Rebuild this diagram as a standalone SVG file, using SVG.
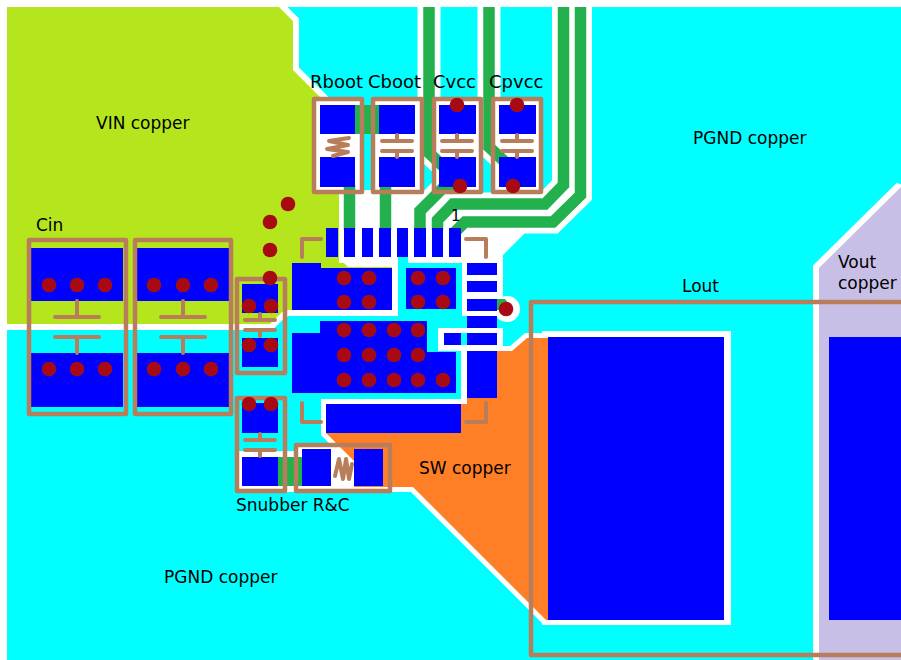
<svg xmlns="http://www.w3.org/2000/svg" width="901" height="660" viewBox="0 0 901 660">
<style>
.t{font-family:"DejaVu Sans",sans-serif;font-size:17px;fill:#000}
.h{font-size:18px}
.pad{fill:#0000ff}
.via{fill:#a80a14}
.box{fill:none;stroke:#b87e5c;stroke-width:4.5;stroke-linejoin:round}
.sym{fill:none;stroke:#b87e5c;stroke-width:4;stroke-linecap:round;stroke-linejoin:round}
.cu{paint-order:stroke;stroke:#fff;stroke-width:12;stroke-linejoin:miter;stroke-miterlimit:2}
.tr{fill:none;stroke:#22b14c;stroke-width:11.500;stroke-linejoin:miter}
.cl{fill:none;stroke:#fff;stroke-width:23}
</style>
<defs>
<g id="capv"><path class="sym" d="M0-11V-5M-15-5H15M-15 5H15M0 5V11"/></g>
<g id="capbig"><path class="sym" d="M0-26V-10M-22-10H22M-22 10H22M0 10V26"/></g>
<circle id="v" class="via" r="7.3"/>
</defs>
<rect width="901" height="660" fill="#fff"/>
<rect x="7" y="7" width="894" height="653" fill="#00ffff"/>
<g id="copper">
<polygon id="vout-copper" class="cu" fill="#c8bfe7" points="819,268 901,187 901,670 819,670"/>
<polygon id="vin-copper" class="cu" fill="#b5e61d" points="7,7 279,7 293,21 293,70 322,99 322,194 339,194 339,258 348,267 392,267 392,310 288,310 282,312 270,324 7,324"/>
<polygon fill="#fff" points="339,190 470,190 470,233 525,233 503,255 503,295 500,316 462,316 462,263 408,263 408,257 398,257 398,263 339,263"/>
<rect x="316" y="99" width="48" height="93" fill="#fff"/>
<rect x="373" y="99" width="49" height="93" fill="#fff"/>
<rect x="434" y="99" width="47" height="93" fill="#fff"/>
<rect x="493" y="99" width="48" height="93" fill="#fff"/>
<rect x="542" y="331" width="189" height="294" fill="#fff"/>
<rect x="239" y="451" width="60" height="41" fill="#fff"/>
<rect x="296" y="443" width="60" height="49" fill="#fff"/>
<circle cx="507" cy="309" r="13" fill="#fff"/>
<polygon id="sw-copper" class="cu" style="stroke-width:10" fill="#ff7f27" points="326,404 467,404 467,398 497,398 497,351 512,351 527,338 548,338 548,620 546,620 413,487 354,487 354,461 326,433"/>
<rect x="438" y="328" width="65" height="23" fill="#fff"/>
<rect x="461" y="333" width="6" height="12" fill="#00ffff"/>
<rect x="461" y="351" width="6" height="53" fill="#fff"/>
</g>
<g id="connectors">
<path class="cl" d="M429 7V153L442 165M489 7V147L505 162M563.500 7V185L545 204H453L437 220V228M580.500 7V195L553 222H465L455 232M420 228V211L445 186"/>
<path class="tr" d="M429 7V153L445 168"/>
<path class="tr" d="M489 7V147L505 162"/>
<path class="tr" d="M563.500 7V185L545 204H453L437.500 220V230"/>
<path class="tr" d="M580.500 7V195L553 222H465L455 232"/>
<path class="tr" d="M420 230V211L445 186H458"/>
<path class="tr" d="M349.500 185V230"/>
<path class="tr" d="M385.500 185V230"/>
<rect x="355" y="105" width="25" height="29" fill="#22b14c"/>
<rect x="278" y="457" width="24" height="29" fill="#22b14c"/>
<polygon points="497,299 505,299 508,303 508,310 497,310" fill="#22b14c"/>
</g>
<g id="ic">
<rect class="pad" x="326" y="228" width="12" height="29"/>
<rect class="pad" x="344" y="228" width="11" height="29"/>
<rect class="pad" x="362" y="228" width="11" height="29"/>
<rect class="pad" x="379" y="228" width="12" height="29"/>
<rect class="pad" x="397" y="228" width="11" height="29"/>
<rect class="pad" x="414" y="228" width="12" height="29"/>
<rect class="pad" x="432" y="228" width="11" height="29"/>
<rect class="pad" x="449" y="228" width="12" height="29"/>
<rect class="pad" x="467" y="263" width="30" height="12"/>
<rect class="pad" x="467" y="281" width="30" height="11"/>
<rect class="pad" x="467" y="299" width="30" height="12"/>
<rect class="pad" x="467" y="316" width="30" height="12"/>
<rect class="pad" x="467" y="333" width="30" height="12"/>
<rect class="pad" x="444" y="333" width="17" height="12"/>
<rect class="pad" x="467" y="351" width="30" height="47"/>
<polygon class="pad" points="292,263 321,263 321,268 392,268 392,310 292,310"/>
<rect class="pad" x="406" y="268" width="50" height="41"/>
<polygon class="pad" points="320,321 427,321 427,352 456,352 456,393 292,393 292,333 320,333"/>
<rect class="pad" x="326" y="404" width="135" height="29"/>
<path class="sym" d="M321 239H302V257M466 239H486V257M302 403V422H321M486 403V422H466"/>
<text class="t" x="451" y="221" style="font-size:15px">1</text>
</g>
<g id="c-rboot">
<rect class="pad" x="320" y="105" width="35" height="29"/><rect class="pad" x="320" y="157" width="35" height="30"/>
<path class="sym" stroke-width="3" d="M349 138L329 141L348 145L327 149L348 152L333 156"/>
<rect class="box" x="314" y="99" width="48" height="93"/>
</g>
<g id="c-cboot">
<rect class="pad" x="379" y="105" width="36" height="29"/><rect class="pad" x="379" y="157" width="36" height="30"/>
<use href="#capv" x="397" y="146"/>
<rect class="box" x="373" y="99" width="49" height="93"/>
</g>
<g id="c-cvcc">
<rect class="pad" x="439" y="105" width="37" height="29"/><rect class="pad" x="439" y="157" width="37" height="30"/>
<use href="#capv" x="457" y="146"/>
<rect class="box" x="434" y="99" width="47" height="93"/>
</g>
<g id="c-cpvcc">
<rect class="pad" x="499" y="105" width="37" height="29"/><rect class="pad" x="499" y="157" width="37" height="30"/>
<use href="#capv" x="517" y="146"/>
<rect class="box" x="493" y="99" width="48" height="93"/>
</g>
<g id="c-cin1">
<rect class="pad" x="31" y="248" width="92" height="53"/><rect class="pad" x="31" y="353" width="92" height="54"/>
<use href="#capbig" x="77" y="327"/>
<rect class="box" x="29" y="240" width="97" height="174"/>
</g>
<g id="c-cin2">
<rect class="pad" x="137" y="248" width="92" height="53"/><rect class="pad" x="137" y="353" width="92" height="54"/>
<use href="#capbig" x="183" y="327"/>
<rect class="box" x="135" y="240" width="96" height="174"/>
</g>
<g id="c-small">
<rect class="pad" x="242" y="284" width="36" height="29"/><rect class="pad" x="242" y="338" width="36" height="29"/>
<use href="#capv" x="260" y="325"/>
<rect class="box" x="237" y="279" width="48" height="94"/>
</g>
<g id="c-snubber">
<rect class="pad" x="242" y="403" width="36" height="30"/><rect class="pad" x="242" y="457" width="36" height="29"/>
<use href="#capv" x="260" y="445"/>
<rect class="box" x="237" y="398" width="48" height="93"/>
</g>
<g id="r-snubber">
<rect class="pad" x="302" y="449" width="29" height="37"/><rect class="pad" x="354" y="449" width="29" height="37"/>
<path class="sym" d="M335 476L339 459L343 479L346 459L349 479L352 464"/>
<rect class="box" x="296" y="445" width="94" height="46"/>
</g>
<g id="lout">
<rect class="pad" x="548" y="337" width="176" height="283"/>
<rect class="pad" x="829" y="337" width="72" height="283"/>
<rect class="box" x="531" y="302" width="380" height="353"/>
</g>
<g id="vias">
<use href="#v" x="457" y="105"/><use href="#v" x="460" y="186"/><use href="#v" x="517" y="105"/><use href="#v" x="513" y="186"/>
<use href="#v" x="288" y="204"/><use href="#v" x="270" y="222"/><use href="#v" x="270" y="250"/><use href="#v" x="270" y="278"/>
<use href="#v" x="506" y="309"/>
<use href="#v" x="49" y="285"/><use href="#v" x="77" y="285"/><use href="#v" x="105" y="285"/>
<use href="#v" x="49" y="369"/><use href="#v" x="77" y="369"/><use href="#v" x="105" y="369"/>
<use href="#v" x="154" y="285"/><use href="#v" x="183" y="285"/><use href="#v" x="211" y="285"/>
<use href="#v" x="154" y="369"/><use href="#v" x="183" y="369"/><use href="#v" x="211" y="369"/>
<use href="#v" x="249" y="306"/><use href="#v" x="271" y="306"/><use href="#v" x="249" y="345"/><use href="#v" x="271" y="345"/>
<use href="#v" x="249" y="404"/><use href="#v" x="271" y="404"/>
<use href="#v" x="344" y="278"/><use href="#v" x="369" y="278"/><use href="#v" x="344" y="302"/><use href="#v" x="369" y="302"/>
<use href="#v" x="418" y="278"/><use href="#v" x="443" y="278"/><use href="#v" x="418" y="302"/><use href="#v" x="443" y="302"/>
<use href="#v" x="344" y="330"/><use href="#v" x="369" y="330"/><use href="#v" x="394" y="330"/><use href="#v" x="418" y="330"/>
<use href="#v" x="344" y="355"/><use href="#v" x="369" y="355"/><use href="#v" x="394" y="355"/><use href="#v" x="418" y="355"/>
<use href="#v" x="344" y="380"/><use href="#v" x="369" y="380"/><use href="#v" x="394" y="380"/><use href="#v" x="418" y="380"/><use href="#v" x="443" y="380"/>
</g>
<g id="labels">
<text class="t" x="96" y="129">VIN copper</text>
<text class="t" x="693" y="144">PGND copper</text>
<text class="t" x="164" y="583">PGND copper</text>
<text class="t" x="419" y="474">SW copper</text>
<text class="t" x="236" y="511">Snubber R&amp;C</text>
<text class="t" x="838" y="268">Vout</text>
<text class="t" x="838" y="289">copper</text>
<text class="t" x="682" y="292">Lout</text>
<text class="t" x="36" y="231">Cin</text>
<text class="t h" x="310" y="88">Rboot</text>
<text class="t h" x="368" y="88">Cboot</text>
<text class="t h" x="433" y="88">Cvcc</text>
<text class="t h" x="489" y="88">Cpvcc</text>
</g>
</svg>
